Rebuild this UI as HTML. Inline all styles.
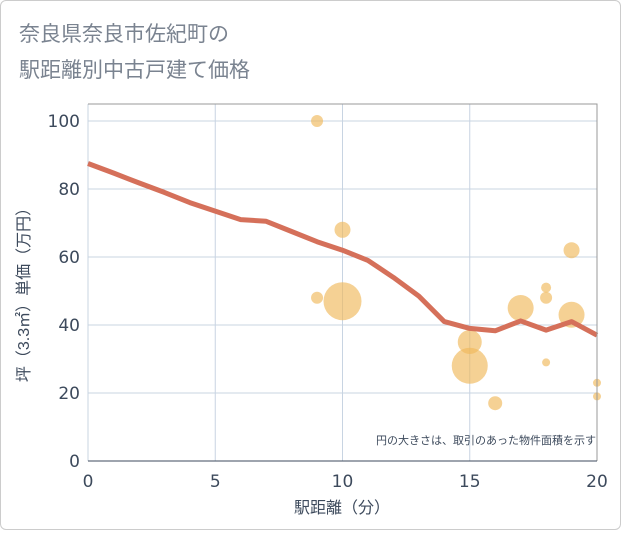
<!DOCTYPE html>
<html><head><meta charset="utf-8"><style>
body{margin:0;background:#fff;font-family:"DejaVu Sans","Noto Sans CJK JP",sans-serif;}
#card{position:absolute;left:0;top:0;width:619px;height:528px;border:1px solid #ccc;border-radius:6px;background:#fff;}
</style></head><body>
<div id="card">
<svg width="621" height="530">
<text x="18" y="40" font-size="21" fill="#7a8390" font-family="Liberation Sans, Noto Sans CJK JP, sans-serif">奈良県奈良市佐紀町の</text>
<text x="18" y="76" font-size="21" fill="#7a8390" font-family="Liberation Sans, Noto Sans CJK JP, sans-serif">駅距離別中古戸建て価格</text>
<g id="grid"></g><g id="bubbles"></g><g id="line"></g><g id="axes"></g>
<text x="595" y="443" font-size="11" fill="#3d4a5c" text-anchor="end" font-family="Liberation Sans, Noto Sans CJK JP, sans-serif">円の大きさは、取引のあった物件面積を示す</text>
<text x="341" y="512" font-size="16" fill="#3d4a5c" text-anchor="middle" font-family="Liberation Sans, Noto Sans CJK JP, sans-serif">駅距離（分）</text>
<text transform="translate(28,290) rotate(-90)" font-size="16" fill="#3d4a5c" text-anchor="middle" font-family="Liberation Sans, Noto Sans CJK JP, sans-serif">坪（3.3㎡）単価（万円）</text>
</svg></div>
<script>
const xTicks=[0,5,10,15,20];
const yTicks=[0,20,40,60,80,100];
const lineX=[0,1,2,3,4,5,6,7,8,9,10,11,12,13,14,15,16,17,18,19,20];
const lineY=[87.5,84.7,81.8,79,76,73.5,71,70.5,67.5,64.5,62,59,54,48.5,41,39,38.3,41.2,38.5,41,37];
const bubX=[9,10,9,10,15,15,16,17,18,18,18,19,19,20,20];
const bubY=[100,68,48,47,35,28,17,45,51,48,29,62,43,23,19];
const bubR=[6,8,6,19,12,18,7,13,5,6,4,8,13,4,4];
const X0=87,X1=596,Y0=460,Y1=103;
const sx=v=>X0+(X1-X0)*v/20, sy=v=>Y0-(Y0-120)*v/100;
const NS="http://www.w3.org/2000/svg";
function mk(t,a,p){const e=document.createElementNS(NS,t);for(const k in a)e.setAttribute(k,a[k]);p.appendChild(e);return e;}
const g=document.getElementById('grid'),ax=document.getElementById('axes');
xTicks.forEach(t=>{const l=mk('line',{x1:sx(t),x2:sx(t),y1:Y1,y2:Y0,stroke:'#c8d4e2'},g);


const tx=mk('text',{x:sx(t),y:486,'font-size':17,fill:'#3d4a5c','text-anchor':'middle'},ax);tx.textContent=t;

});
yTicks.forEach(t=>{const l=mk('line',{x1:X0,x2:X1,y1:sy(t),y2:sy(t),stroke:'#c8d4e2'},g);


const tx=mk('text',{x:X0-8,y:sy(t)+6,'font-size':17,fill:'#3d4a5c','text-anchor':'end'},ax);tx.textContent=t;

});
const fr=mk('path',{d:`M${X0},${Y1}H${X1}V${Y0}`,fill:'none',stroke:'#999'},ax);


const ba=mk('line',{x1:X0,x2:X1,y1:Y0,y2:Y0,stroke:'#3d4a5c'},ax);


const b=document.getElementById('bubbles');
bubX.forEach((x,i)=>{const c=mk('circle',{cx:sx(x),cy:sy(bubY[i]),r:bubR[i],fill:'#f0b85a','fill-opacity':0.65},b);

});
const p=mk('polyline',{points:lineX.map((x,i)=>sx(x)+','+sy(lineY[i])).join(' '),fill:'none',stroke:'#d5705a','stroke-width':5,'stroke-linejoin':'round'},document.getElementById('line'));


</script>
</body></html>
